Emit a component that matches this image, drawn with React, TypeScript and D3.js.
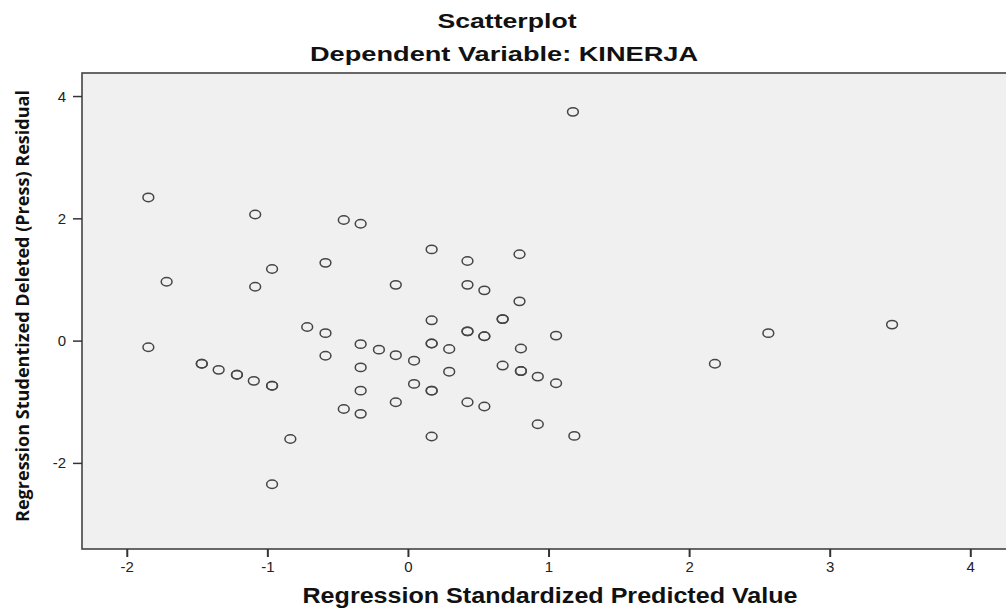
import React, { useEffect, useRef } from 'react';
import * as d3 from 'd3';

// Regression Standardized Predicted Value (x) and Studentized Deleted Residual (y)
// repeated pairs are cases that sit on top of each other in the plot
const predictedValues = [
  -1.85, -1.09, -0.46, -0.34, -0.59, -0.97, -1.72, -1.09, -0.09, -0.72,
  -0.59, -1.85, -0.34, -0.21, -0.09, -0.59, -1.47, -1.47, -1.35, -1.22,
  -1.22, -1.10, -0.97, -0.97, -0.34, -0.34, -0.09, -0.46, -0.34, -0.84,
  -0.97, 1.17, 0.165, 0.42, 0.79, 0.42, 0.54, 0.79, 0.165, 0.67,
  0.67, 0.42, 0.42, 0.54, 0.54, 1.05, 0.165, 0.165, 0.29, 0.80,
  0.04, 0.29, 0.67, 0.80, 0.80, 0.92, 1.05, 0.04, 0.165, 0.165,
  0.42, 0.54, 0.92, 0.165, 1.18, 2.18, 2.56, 3.44
];
const residualValues = [
  2.35, 2.07, 1.98, 1.92, 1.28, 1.18, 0.97, 0.89, 0.92, 0.23,
  0.13, -0.10, -0.05, -0.14, -0.23, -0.24, -0.37, -0.37, -0.47, -0.55,
  -0.55, -0.65, -0.73, -0.73, -0.43, -0.81, -1.00, -1.11, -1.19, -1.60,
  -2.34, 3.75, 1.50, 1.31, 1.42, 0.92, 0.83, 0.65, 0.34, 0.36,
  0.36, 0.16, 0.16, 0.08, 0.08, 0.09, -0.04, -0.04, -0.13, -0.12,
  -0.32, -0.50, -0.40, -0.49, -0.49, -0.58, -0.69, -0.70, -0.81, -0.81,
  -1.00, -1.07, -1.36, -1.56, -1.55, -0.37, 0.13, 0.27
];
const xTicks = [-2, -1, 0, 1, 2, 3, 4];
const yTicks = [-2, 0, 2, 4];

const App: React.FC = () => {
  const svgRef = useRef<SVGSVGElement>(null);

  useEffect(() => {
    if (!svgRef.current) return;
    const svg = d3.select(svgRef.current);
    svg.selectAll('*').remove();

    const width = 1006;
    const height = 611;
    // plot frame (right side runs off the picture, as in the export)
    const left = 82, right = 1020, top = 73, bottom = 549;

    const x = d3.scaleLinear().domain([-2.322, 4.35]).range([left, right]);
    const y = d3.scaleLinear().domain([-3.40, 4.385]).range([bottom, top]);

    svg.append('rect')
      .attr('width', width)
      .attr('height', height)
      .attr('fill', '#ffffff');

    // titles
    svg.append('text')
      .attr('x', 507)
      .attr('y', 28)
      .attr('text-anchor', 'middle')
      .attr('font-family', 'Liberation Sans, Arial, sans-serif')
      .attr('font-size', 21)
      .attr('font-weight', 'bold')
      .attr('fill', '#111')
      .attr('textLength', 139)
      .attr('lengthAdjust', 'spacingAndGlyphs')
      .text('Scatterplot');

    svg.append('text')
      .attr('x', 504)
      .attr('y', 61)
      .attr('text-anchor', 'middle')
      .attr('font-family', 'Liberation Sans, Arial, sans-serif')
      .attr('font-size', 21)
      .attr('font-weight', 'bold')
      .attr('fill', '#111')
      .attr('textLength', 388)
      .attr('lengthAdjust', 'spacingAndGlyphs')
      .text('Dependent Variable: KINERJA');

    // plot background + frame
    svg.append('rect')
      .attr('x', left)
      .attr('y', top)
      .attr('width', right - left)
      .attr('height', bottom - top)
      .attr('fill', '#f0f0f0')
      .attr('stroke', '#444')
      .attr('stroke-width', 1.6);

    // x ticks
    const xt = svg.append('g');
    xTicks.forEach((t) => {
      xt.append('line')
        .attr('x1', x(t)).attr('x2', x(t))
        .attr('y1', bottom).attr('y2', bottom + 8)
        .attr('stroke', '#333')
        .attr('stroke-width', 2);
      xt.append('text')
        .attr('x', x(t))
        .attr('y', bottom + 23)
        .attr('text-anchor', 'middle')
        .attr('font-family', 'Liberation Sans, Arial, sans-serif')
        .attr('font-size', 15)
        .attr('fill', '#222')
        .text(t.toString());
    });

    // y ticks
    const yt = svg.append('g');
    yTicks.forEach((t) => {
      yt.append('line')
        .attr('x1', left - 9).attr('x2', left)
        .attr('y1', y(t)).attr('y2', y(t))
        .attr('stroke', '#333')
        .attr('stroke-width', 1.5);
      yt.append('text')
        .attr('x', left - 16)
        .attr('y', y(t) + 5)
        .attr('text-anchor', 'end')
        .attr('font-family', 'Liberation Sans, Arial, sans-serif')
        .attr('font-size', 15)
        .attr('fill', '#222')
        .text(t.toString());
    });

    // points (the export is stretched sideways, so the rings are slightly wide)
    svg.append('g')
      .selectAll('ellipse')
      .data(predictedValues.map((p, i) => [p, residualValues[i]]))
      .enter()
      .append('ellipse')
      .attr('cx', (d) => x(d[0]))
      .attr('cy', (d) => y(d[1]))
      .attr('rx', 5.4)
      .attr('ry', 4.2)
      .attr('fill', 'none')
      .attr('stroke', '#454545')
      .attr('stroke-width', 1.5);

    // axis titles
    svg.append('text')
      .attr('x', 550)
      .attr('y', 603)
      .attr('text-anchor', 'middle')
      .attr('font-family', 'Liberation Sans, Arial, sans-serif')
      .attr('font-size', 22)
      .attr('font-weight', 'bold')
      .attr('fill', '#111')
      .attr('textLength', 495)
      .attr('lengthAdjust', 'spacingAndGlyphs')
      .text('Regression Standardized Predicted Value');

    svg.append('text')
      .attr('transform', 'translate(29,306) rotate(-90)')
      .attr('text-anchor', 'middle')
      .attr('font-family', 'Open Sans, Liberation Sans, sans-serif')
      .attr('font-size', 18)
      .attr('font-weight', 'bold')
      .attr('fill', '#111')
      .attr('textLength', 432)
      .attr('lengthAdjust', 'spacingAndGlyphs')
      .text('Regression Studentized Deleted (Press) Residual');
  }, []);

  return (
    <svg
      ref={svgRef}
      width={1006}
      height={611}
      style={{ position: 'absolute', left: 0, top: 0 }}
    />
  );
};

export default App;
